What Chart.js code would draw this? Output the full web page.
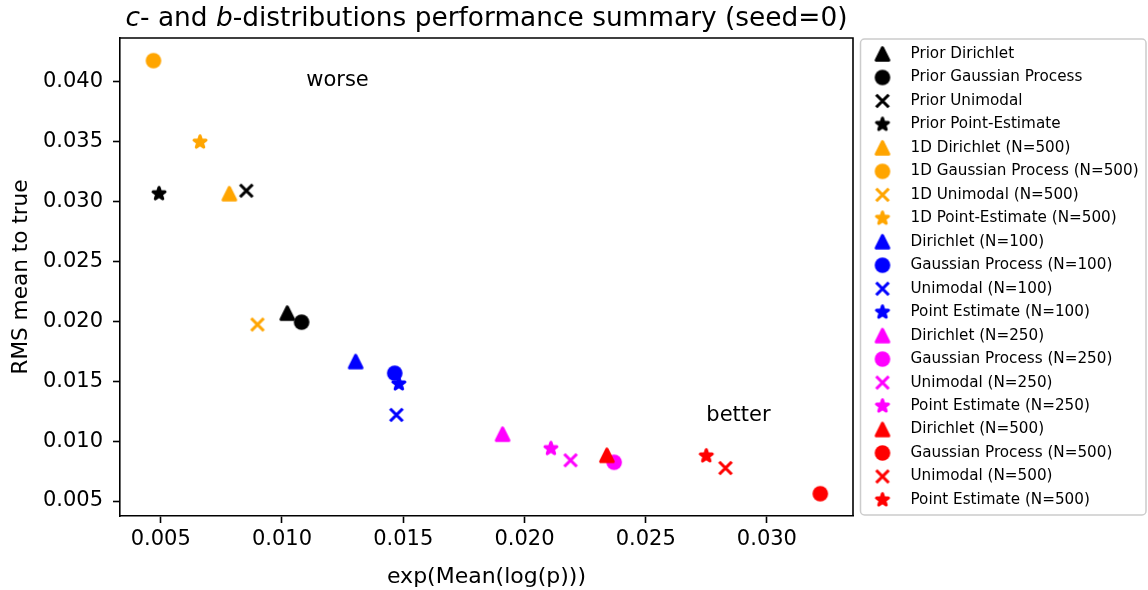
<!DOCTYPE html>
<html>
<head>
<meta charset="utf-8">
<title>c- and b-distributions performance summary</title>
<script src="https://cdn.jsdelivr.net/npm/chart.js@4.4.1/dist/chart.umd.min.js"></script>
<style>
  html, body { margin: 0; padding: 0; background: #fff; }
  canvas { display: block; }
</style>
</head>
<body>
<canvas id="chart" width="1148" height="590"></canvas>
<script>
// series, in legend order
const seriesNames = [
  "Prior Dirichlet", "Prior Gaussian Process", "Prior Unimodal", "Prior Point-Estimate",
  "1D Dirichlet (N=500)", "1D Gaussian Process (N=500)", "1D Unimodal (N=500)", "1D Point-Estimate (N=500)",
  "Dirichlet (N=100)", "Gaussian Process (N=100)", "Unimodal (N=100)", "Point Estimate (N=100)",
  "Dirichlet (N=250)", "Gaussian Process (N=250)", "Unimodal (N=250)", "Point Estimate (N=250)",
  "Dirichlet (N=500)", "Gaussian Process (N=500)", "Unimodal (N=500)", "Point Estimate (N=500)"
];
// exp(Mean(log(p)))
const meanLogP = [
  0.01022, 0.01081, 0.00853, 0.00493,
  0.00783, 0.00470, 0.00899, 0.00662,
  0.01304, 0.01465, 0.01472, 0.01482,
  0.01910, 0.02370, 0.02190, 0.02109,
  0.02340, 0.03220, 0.02829, 0.02750
];
// RMS mean to true
const rmsToTrue = [
  0.02067, 0.01992, 0.03088, 0.03063,
  0.03063, 0.04173, 0.01972, 0.03494,
  0.01663, 0.01566, 0.01218, 0.01477,
  0.01057, 0.00823, 0.00840, 0.00937,
  0.00881, 0.00561, 0.00775, 0.00876
];
const xTicks = [0.005, 0.010, 0.015, 0.020, 0.025, 0.030];
const yTicks = [0.005, 0.010, 0.015, 0.020, 0.025, 0.030, 0.035, 0.040];

const notes = ["worse", "better"];
const notesX = [0.011, 0.0275];
const notesY = [0.0396, 0.0117];

// styles: one colour per group of four, one shape per method
const groupColors = ["#000000", "#ffa500", "#0000ff", "#ff00ff", "#ff0000"];
const methodShapes = ["triangle", "circle", "x", "star"];

const FONT = "'DejaVu Sans', sans-serif";

// matplotlib-like markers painted once on small canvases
function makeMarker(shape, color)
{
  let c = document.createElement("canvas");
  c.width = 24;
  c.height = 24;
  let ctx = c.getContext("2d");
  let s = 6.25;
  ctx.translate(12, 12);
  ctx.fillStyle = color;
  ctx.strokeStyle = color;
  ctx.lineWidth = 3.1;
  ctx.lineJoin = "round";

  if (shape == "circle") {
    ctx.beginPath();
    ctx.arc(0, 0, s + 1.55, 0, Math.PI * 2);
    ctx.fill();
  }
  else if (shape == "triangle") {
    ctx.beginPath();
    ctx.moveTo(0, -s);
    ctx.lineTo(-s, s);
    ctx.lineTo(s, s);
    ctx.closePath();
    ctx.fill();
    ctx.stroke();
  }
  else if (shape == "star") {
    let inner = s * 0.381966;
    ctx.beginPath();
    for (let k = 0; k < 10; k++) {
      let r = (k % 2 == 0) ? s : inner;
      let a = k * Math.PI / 5;
      ctx.lineTo(r * Math.sin(a), -r * Math.cos(a));
    }
    ctx.closePath();
    ctx.fill();
    ctx.stroke();
  }
  else {
    ctx.lineCap = "butt";
    ctx.beginPath();
    ctx.moveTo(-s, -s); ctx.lineTo(s, s);
    ctx.moveTo(-s, s); ctx.lineTo(s, -s);
    ctx.stroke();
  }
  return c;
}

let markers = seriesNames.map((name, i) =>
  makeMarker(methodShapes[i % 4], groupColors[Math.floor(i / 4)]));

let datasets = seriesNames.map((name, i) => ({
  label: name,
  data: [{ x: meanLogP[i], y: rmsToTrue[i] }],
  pointStyle: markers[i],
  pointRadius: 8,
  pointHoverRadius: 8,
  backgroundColor: groupColors[Math.floor(i / 4)],
  borderColor: groupColors[Math.floor(i / 4)],
  order: -i // later series on top, like matplotlib
}));

// title with italic c and b
const titleParts = [["c", true], ["- and ", false], ["b", true], ["-distributions performance summary (seed=0)", false]];

const extras = {
  id: "extras",
  afterDraw(chart) {
    let ctx = chart.ctx;
    let area = chart.chartArea;
    let xs = chart.scales.x, ys = chart.scales.y;
    ctx.save();

    // top and right spines
    ctx.strokeStyle = "#000";
    ctx.lineWidth = 1.6;
    ctx.beginPath();
    ctx.moveTo(area.left, area.top);
    ctx.lineTo(area.right, area.top);
    ctx.lineTo(area.right, area.bottom);
    ctx.stroke();

    // title
    ctx.fillStyle = "#000";
    ctx.textBaseline = "alphabetic";
    ctx.textAlign = "left";
    let total = 0;
    titleParts.forEach(p => {
      ctx.font = (p[1] ? "italic " : "") + "26.4px " + FONT;
      total += ctx.measureText(p[0]).width;
    });
    let tx = (area.left + area.right) / 2 - total / 2;
    titleParts.forEach(p => {
      ctx.font = (p[1] ? "italic " : "") + "26.4px " + FONT;
      ctx.fillText(p[0], tx, area.top - 12.5);
      tx += ctx.measureText(p[0]).width;
    });

    // worse / better
    ctx.font = "21px " + FONT;
    notes.forEach((t, i) => {
      ctx.fillText(t, xs.getPixelForValue(notesX[i]), ys.getPixelForValue(notesY[i]));
    });

    // legend
    let lx = area.right + 7.5, ly = area.top + 1;
    let lw = 285.5, lh = 476;
    ctx.beginPath();
    ctx.roundRect(lx, ly, lw, lh, 4);
    ctx.fillStyle = "rgba(255,255,255,0.8)";
    ctx.fill();
    ctx.strokeStyle = "#cccccc";
    ctx.lineWidth = 1.5;
    ctx.stroke();

    ctx.font = "15.2px " + FONT;
    ctx.fillStyle = "#000";
    ctx.textBaseline = "middle";
    chart.data.datasets.forEach((ds, i) => {
      let y = ly + 15 + i * 23.47;
      ctx.drawImage(ds.pointStyle, lx + 22 - 12, y - 12);
      ctx.fillText(ds.label, lx + 50, y);
    });
    ctx.restore();
  }
};

Chart.defaults.font.family = FONT;
Chart.defaults.color = "#000";

let chart = new Chart(document.getElementById("chart"), {
  type: "scatter",
  data: { datasets: datasets },
  options: {
    responsive: false,
    animation: false,
    events: [],
    devicePixelRatio: 1,
    layout: { padding: { top: 38, right: 295, left: 0, bottom: 0 } },
    plugins: {
      legend: { display: false },
      tooltip: { enabled: false }
    },
    scales: {
      x: {
        type: "linear",
        min: 0.00332,
        max: 0.03355,
        afterFit: scale => { scale.height = 74; },
        afterBuildTicks: scale => { scale.ticks = xTicks.map(v => ({ value: v })); },
        ticks: {
          font: { size: 21 },
          padding: 4,
          maxRotation: 0,
          callback: v => v.toFixed(3)
        },
        grid: { drawOnChartArea: false, drawTicks: true, tickLength: 7, tickWidth: 1.6, tickColor: "#000" },
        border: { display: true, color: "#000", width: 1.6 },
        title: { display: true, text: "exp(Mean(log(p)))", font: { size: 22 }, padding: { top: 6, bottom: 0 } }
      },
      y: {
        type: "linear",
        min: 0.00375,
        max: 0.04362,
        afterFit: scale => { scale.width = 120; },
        afterBuildTicks: scale => { scale.ticks = yTicks.map(v => ({ value: v })); },
        ticks: {
          font: { size: 21 },
          padding: 10,
          callback: v => v.toFixed(3)
        },
        grid: { drawOnChartArea: false, drawTicks: true, tickLength: 7, tickWidth: 1.6, tickColor: "#000" },
        border: { display: true, color: "#000", width: 1.6 },
        title: { display: true, text: "RMS mean to true", font: { size: 21.6 }, padding: { top: 8.7, bottom: 0 } }
      }
    }
  },
  plugins: [extras]
});
</script>
</body>
</html>
